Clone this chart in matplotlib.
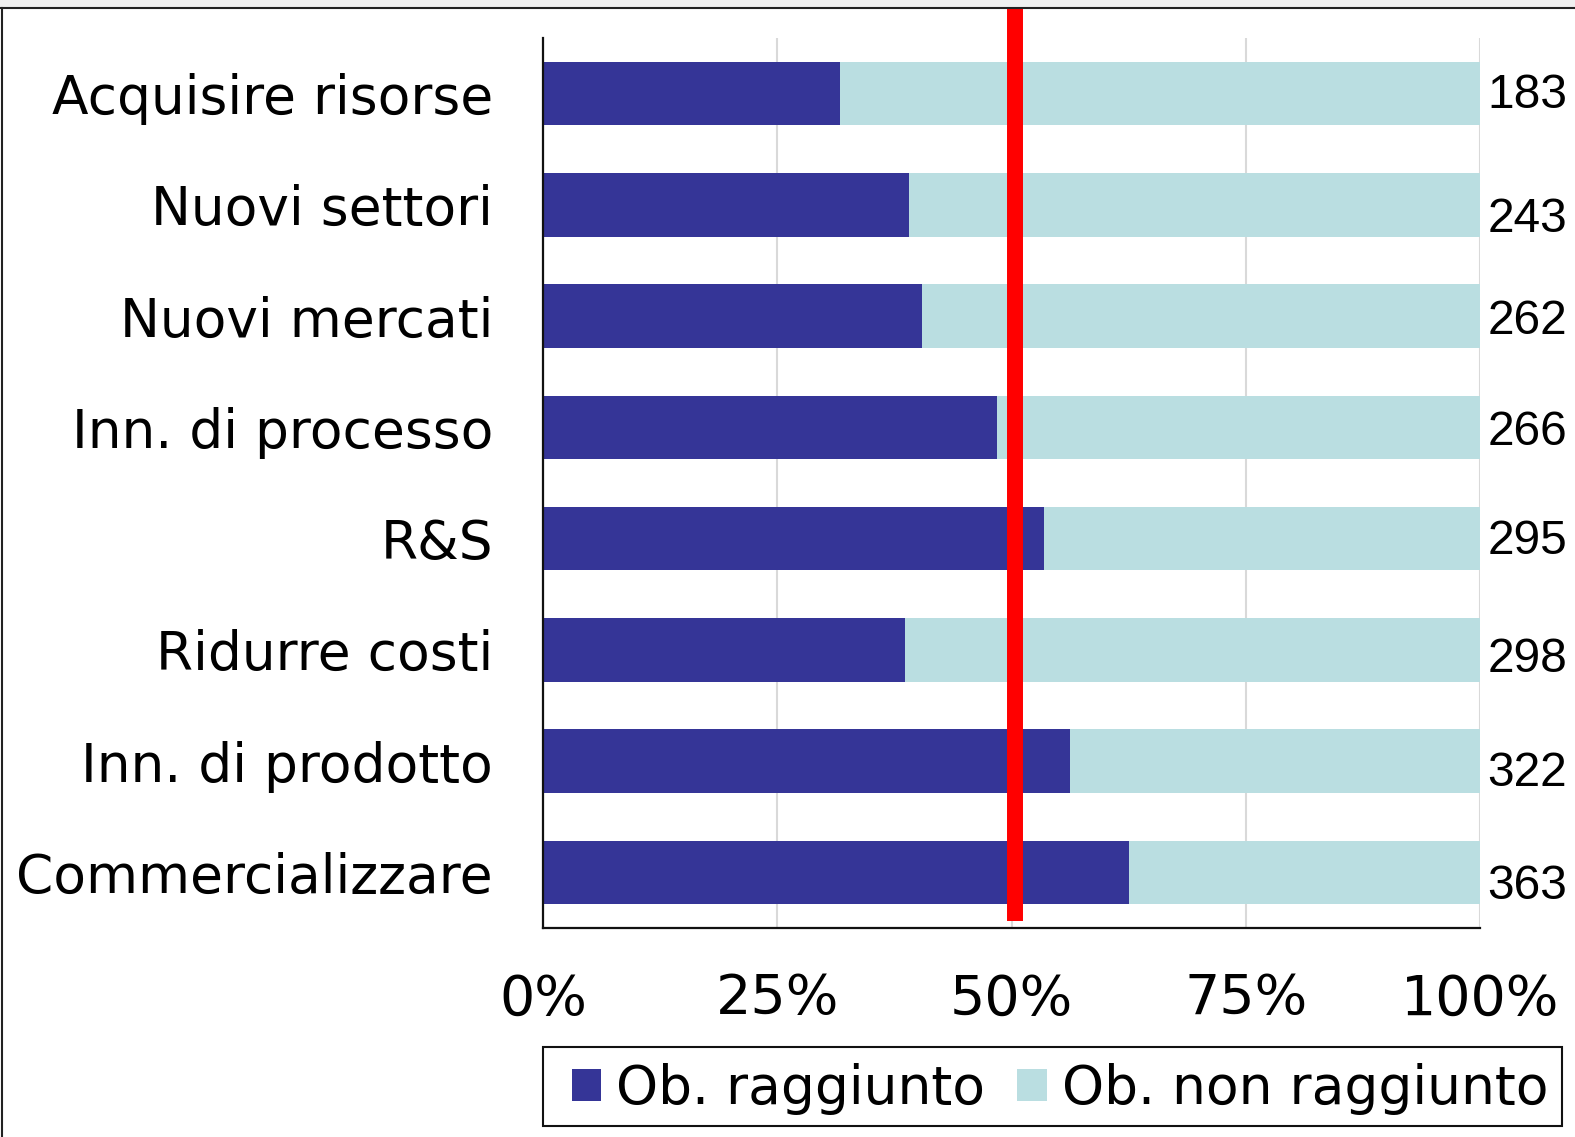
"""
Obiettivi raggiunti / non raggiunti per tipo di obiettivo (barre 100%).
"""

import matplotlib
matplotlib.use('Agg')
import matplotlib.pyplot as plt
from matplotlib.patches import Rectangle
from matplotlib.lines import Line2D

# --- data (top to bottom) ---
categories = ['Acquisire risorse', 'Nuovi settori', 'Nuovi mercati', 'Inn. di processo',
              'R&S', 'Ridurre costi', 'Inn. di prodotto', 'Commercializzare']
reached_pct = [31.7, 39.1, 40.4, 48.5, 53.5, 38.6, 56.2, 62.5]
not_reached_pct = [100 - v for v in reached_pct]
counts = [183, 243, 262, 266, 295, 298, 322, 363]
average_pct = 50.4
tick_values = [0, 25, 50, 75, 100]
tick_labels = ['0%', '25%', '50%', '75%', '100%']
series_names = ['Ob. raggiunto', 'Ob. non raggiunto']

# small vertical nudges of the count labels, as in the original
label_dy = [0.02, 0.13, 0.05, 0.05, 0.03, 0.09, 0.11, 0.13]

DARK = '#353597'
LIGHT = '#BADEE1'

W, H = 1575, 1137
fig = plt.figure(figsize=(W / 100, H / 100), dpi=100)
fig.patch.set_facecolor('white')

# grey strip and frame of the original export
fig.patches.append(Rectangle((0, 1 - 7 / H), 1, 7 / H, transform=fig.transFigure,
                             facecolor='#F0F0F0', edgecolor='none', zorder=-2))
fig.lines.append(Line2D([0, 1], [1 - 8 / H, 1 - 8 / H], transform=fig.transFigure,
                        color='#222222', lw=1.5))
fig.lines.append(Line2D([2 / W, 2 / W], [0, 1 - 8 / H], transform=fig.transFigure,
                        color='#222222', lw=1.5))

ax = fig.add_axes([543 / W, 1 - 928 / H, 937 / W, 890 / H])

y = range(len(categories))
ax.barh(y, reached_pct, height=0.57, color=DARK, label=series_names[0], zorder=2)
ax.barh(y, not_reached_pct, left=reached_pct, height=0.57, color=LIGHT,
        label=series_names[1], zorder=2)

ax.set_xlim(0, 100)
ax.set_ylim(len(categories) - 0.5, -0.5)

ax.set_yticks(list(y))
ax.set_yticklabels(categories, fontsize=38.4, fontfamily='DejaVu Sans')
ax.set_xticks(tick_values)
ax.set_xticklabels(tick_labels, fontsize=40, fontfamily='DejaVu Sans')
ax.tick_params(axis='both', length=0)
ax.tick_params(axis='y', pad=36)
ax.tick_params(axis='x', pad=32)

ax.grid(axis='x', color='#D9D9D9', lw=1.5, zorder=0)
ax.set_axisbelow(True)
for side in ['top', 'right']:
    ax.spines[side].set_visible(False)
for side in ['left', 'bottom']:
    ax.spines[side].set_linewidth(1.6)
    ax.spines[side].set_color('#111111')

# average line
ax.axvline(average_pct, ymin=0.008, ymax=1.033, color='#FF0000', lw=11.5,
           solid_capstyle='butt', clip_on=False, zorder=5)

# counts on the right
for i, n in enumerate(counts):
    ax.text(100.8, i + label_dy[i], str(n), ha='left', va='center', fontsize=34.5,
            fontfamily='Liberation Sans', clip_on=False)

# legend: box drawn separately so its padding matches the original
fig.patches.append(Rectangle((543 / W, 1 - 1126 / H), 1019 / W, 79 / H,
                             transform=fig.transFigure, facecolor='white',
                             edgecolor='#111111', lw=1.5, zorder=-1))
leg = ax.legend(loc='center', bbox_to_anchor=(1060 / W, 1 - 1089 / H),
                bbox_transform=fig.transFigure, ncol=2, fontsize=38.5,
                frameon=False, borderpad=0, handlelength=0.55, handleheight=0.55,
                handletextpad=0.28, columnspacing=0.6, borderaxespad=0)

fig.savefig('out.png', dpi=100)
plt.close(fig)
